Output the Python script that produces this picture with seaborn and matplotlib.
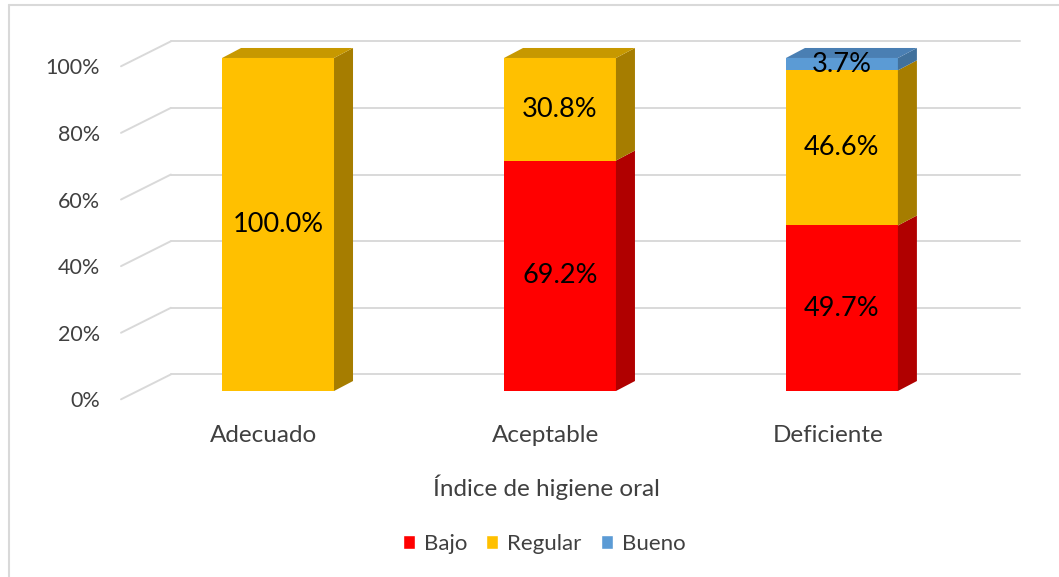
import numpy as np
import pandas as pd
import seaborn as sns
import matplotlib.pyplot as plt
from matplotlib.patches import Polygon, Patch
from matplotlib.lines import Line2D

# data
categories = ['Adecuado', 'Aceptable', 'Deficiente']
series = ['Bajo', 'Regular', 'Bueno']
bajo = [0.0, 69.2, 49.7]
regular = [100.0, 30.8, 46.6]
bueno = [0.0, 0.0, 3.7]
yticks = [0, 20, 40, 60, 80, 100]

front = {'Bajo': '#FF0000', 'Regular': '#FFC000', 'Bueno': '#5B9BD5'}
side = {'Bajo': '#B00000', 'Regular': '#A67D00', 'Bueno': '#41719C'}
top = {'Bajo': '#D00000', 'Regular': '#C79800', 'Bueno': '#4A7FB3'}

sns.set_style('white')
plt.rcParams['font.family'] = ['Lato', 'DejaVu Sans']

fig = plt.figure(figsize=(10.59, 5.77), dpi=100)
ax = fig.add_axes([121 / 1059, 1 - 410 / 577, 909 / 1059, 380 / 577])

df = pd.DataFrame({'cat': categories, 'Bajo': bajo, 'Regular': regular, 'Bueno': bueno})
width = 0.397
dx, dy = 0.0674, 3.0          # depth of the 3d faces
back_dx, back_dy = 0.177, 7.5  # back wall offset
grid = '#D9D9D9'
txt = '#404040'

# gridlines: floor diagonal + back wall line
for v in yticks:
    y0 = v - 2.5
    ax.plot([-0.557, -0.557 + back_dx], [y0, y0 + back_dy], color=grid, lw=1.4, zorder=1, clip_on=False)
    ax.plot([-0.557 + back_dx, 2.631], [y0 + back_dy, y0 + back_dy], color=grid, lw=1.4, zorder=1, clip_on=False)
    ax.text(-0.557 - 0.075, y0 - 0.6, f'{v}%', ha='right', va='center', fontsize=15.5, color=txt)

bottom = np.zeros(len(categories))
for s in series:
    vals = df[s].to_numpy()
    sns.barplot(data=df, x='cat', y=s, color=front[s], width=width, bottom=bottom,
                saturation=1, ax=ax, zorder=3, linewidth=0, order=categories)
    for i, v in enumerate(vals):
        if v <= 0:
            continue
        b, t = bottom[i], bottom[i] + v
        xr = i + width / 2
        ax.add_patch(Polygon([(xr, b), (xr + dx, b + dy), (xr + dx, t + dy), (xr, t)],
                             closed=True, facecolor=side[s], edgecolor='none', zorder=3))
        ax.text(i, (b + t) / 2, f'{v:.1f}%', ha='center', va='center', fontsize=19.5,
                color='black', zorder=5)
    bottom = bottom + vals

# top faces on the uppermost segment
for i in range(len(categories)):
    last = [s for s in series if df[s][i] > 0][-1]
    t = bottom[i]
    xl, xr = i - width / 2, i + width / 2
    ax.add_patch(Polygon([(xl, t), (xl + dx, t + dy), (xr + dx, t + dy), (xr, t)],
                         closed=True, facecolor=top[last], edgecolor='none', zorder=3))

ax.set_xlim(-0.557, 2.667)
ax.set_ylim(-5.7, 108.4)
ax.set_yticks([])
# category labels sit a bit left of the bar fronts (3d projection)
ax.set_xticks(np.arange(len(categories)) - 0.05)
ax.set_xticklabels(categories, fontsize=17.5, color=txt)
ax.tick_params(axis='x', length=0, pad=11)
ax.set_ylabel('')
ax.set_xlabel('Índice de higiene oral', fontsize=17.5, color=txt)
ax.xaxis.set_label_coords((546 - 121) / 909, -0.17)
sns.despine(ax=ax, left=True, bottom=True)

handles = [Patch(facecolor=front[s], label=s) for s in series]
fig.legend(handles=handles, loc='center', bbox_to_anchor=(544 / 1059, 1 - 544 / 577), ncol=3,
           frameon=False, fontsize=16, handlelength=0.55, handleheight=0.55, handletextpad=0.4,
           columnspacing=0.85, labelcolor=txt)

# chart border (top and left visible)
fig.add_artist(Line2D([9 / 1059, 1], [1 - 5 / 577, 1 - 5 / 577], color=grid, lw=1.5))
fig.add_artist(Line2D([9 / 1059, 9 / 1059], [0, 1 - 5 / 577], color=grid, lw=1.5))

fig.savefig('out.png', dpi=100)
